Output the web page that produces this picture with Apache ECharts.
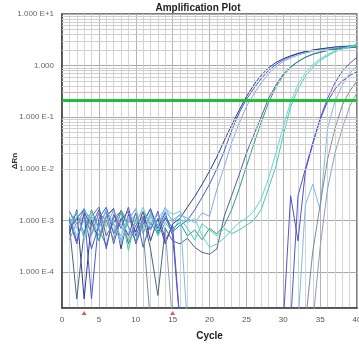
<!DOCTYPE html>
<html><head><meta charset="utf-8">
<script src="https://cdn.jsdelivr.net/npm/echarts@6/dist/echarts.min.js"></script>
<style>html,body{margin:0;padding:0;background:#fff}#c{width:359px;height:345px}</style>
</head><body><div id="c"></div>
<script>
const cycles = [1,2,3,4,5,6,7,8,9,10,11,12,13,14,15,16,17,18,19,20,21,22,23,24,25,26,27,28,29,30,31,32,33,34,35,36,37,38,39,40];
const xTickLabels = ['0','5','10','15','20','25','30','35','40'];
const yTickValues = [1e-4,1e-3,1e-2,1e-1,1,10];
const yTickLabels = ['1.000 E-4','1.000 E-3','1.000 E-2','1.000 E-1','1.000','1.000 E+1'];
const minorGridValues = [2e-5,3e-5,4e-5,5e-5,6e-5,7e-5,8e-5,9e-5,2e-4,3e-4,4e-4,5e-4,6e-4,7e-4,8e-4,9e-4,2e-3,3e-3,4e-3,5e-3,6e-3,7e-3,8e-3,9e-3,2e-2,3e-2,4e-2,5e-2,6e-2,7e-2,8e-2,9e-2,0.2,0.3,0.4,0.5,0.6,0.7,0.8,0.9,2,3,4,5,6,7,8,9];
const threshold = 0.21;
const upperLine = 0.31;
const baselineCycles = [3, 15];

const wellA1 = [1.1e-3,4e-4,1.3e-3,2.8e-4,8e-4,1.5e-3,3.5e-4,1.1e-3,5e-4,1.4e-3,3e-4,9e-4,5.5e-4,1.1e-3,6e-4,8e-4,1.0e-3,1.6e-3,2.8e-3,5.0e-3,1.0e-2,2.2e-2,5.5e-2,1.2e-1,2.2e-1,3.6e-1,5.6e-1,8.0e-1,1.05,1.3,1.5,1.7,1.85,2.0,2.1,2.2,2.3,2.35,2.4,2.45];
const wellA2 = [5.5e-4,1.6e-3,3e-5,1.0e-3,4e-4,1.2e-3,1.7e-3,2.8e-4,1.3e-3,6e-4,1.5e-3,4e-4,1.1e-3,3.5e-4,8.5e-4,1.1e-3,1.8e-3,2.9e-3,5.0e-3,9.0e-3,1.7e-2,3.5e-2,7.0e-2,1.35e-1,2.5e-1,4.2e-1,6.5e-1,9.0e-1,1.15,1.36,1.55,1.72,1.87,2.0,2.1,2.18,2.26,2.32,2.36,2.4];
const wellA3 = [1.5e-3,7e-4,1.7e-3,5e-4,1.4e-3,7.5e-4,1.6e-3,4e-4,1.0e-3,1.7e-3,5.5e-4,1.4e-3,8e-4,1.5e-3,1.0e-3,1.3e-3,1.1e-3,9e-4,1.4e-3,1.2e-3,4.0e-3,1.1e-2,3.2e-2,7.5e-2,1.6e-1,2.8e-1,4.6e-1,7.0e-1,9.5e-1,1.2,1.4,1.6,1.75,1.9,2.0,2.1,2.2,2.25,2.3,2.35];
const wellB1 = [8e-4,3e-5,6e-4,1.2e-3,1.8e-3,5e-4,9e-4,1.5e-3,3.5e-4,8e-4,1.2e-3,2.8e-4,3.5e-5,7e-4,4e-4,3.5e-4,4.5e-4,3e-4,2.4e-4,2.2e-4,2.8e-4,1.2e-3,3.0e-3,7.5e-3,2.0e-2,4.5e-2,1.0e-1,2.3e-1,4.2e-1,6.8e-1,9.5e-1,1.2,1.45,1.65,1.8,1.95,2.05,2.15,2.22,2.28];
const wellB2 = [9e-4,1.4e-3,5.5e-4,1.6e-3,7e-4,3.2e-4,1.1e-3,1.5e-3,7.5e-4,4e-4,1.0e-3,1.6e-3,6e-4,1.2e-3,7e-4,9e-4,5e-4,6.5e-4,4.2e-4,7e-4,5.5e-4,8e-4,1.6e-3,4.0e-3,1.1e-2,3.0e-2,7.8e-2,1.9e-1,3.8e-1,6.4e-1,9.2e-1,1.2,1.45,1.67,1.85,2.0,2.12,2.22,2.3,2.36];
const wellC1 = [7e-4,1.1e-3,1.7e-3,8.5e-4,4e-4,1.0e-3,6e-4,1.4e-3,2.6e-4,1.1e-3,7e-4,1.3e-3,5e-4,9e-4,6e-4,1.1e-3,7e-4,4.2e-4,8.5e-4,6.5e-4,5e-4,7e-4,5.5e-4,6.5e-4,8e-4,1.0e-3,1.6e-3,4.2e-3,1.1e-2,4.5e-2,1.6e-1,3.5e-1,6.2e-1,9.3e-1,1.25,1.55,1.85,2.1,2.35,2.6];
const wellC2 = [1.2e-3,5e-4,1.0e-3,1.4e-3,6.5e-4,1.7e-3,8.5e-4,5e-4,1.2e-3,8.5e-4,1.8e-3,7e-4,1.1e-3,1.7e-3,1.3e-3,1.5e-3,9e-4,1.1e-3,5e-4,3e-4,3.5e-4,4.5e-4,6.5e-4,9e-4,1.1e-3,1.5e-3,2.6e-3,6.5e-3,2.0e-2,6.5e-2,2.0e-1,4.3e-1,7.2e-1,1.05,1.35,1.65,1.9,2.1,2.3,2.45];
const wellD1 = [1.0e-3,3.5e-4,1.4e-3,8e-4,1.6e-3,2.8e-4,1.3e-3,7e-4,1.8e-3,5e-4,1.1e-3,6.5e-4,1.5e-3,4e-4,8e-4,1e-5,1e-5,1e-5,1e-5,1e-5,1e-5,1e-5,1e-5,1e-5,1e-5,1e-5,1e-5,1e-5,1e-5,1e-5,3.0e-3,4e-4,9e-3,3.0e-2,9.0e-2,2.0e-1,3.5e-1,5.0e-1,6.4e-1,7.6e-1];
const wellD2 = [6.5e-4,1.1e-3,1.6e-3,3e-5,1.1e-3,1.8e-3,5.5e-4,1.0e-3,1.5e-3,3.5e-4,8.5e-4,1.7e-3,7e-4,1.4e-3,5e-4,1e-5,1e-5,1e-5,1e-5,1e-5,1e-5,1e-5,1e-5,1e-5,1e-5,1e-5,1e-5,1e-5,1e-5,1e-5,1e-5,3e-3,1.0e-2,3.2e-2,9.5e-2,2.3e-1,4.6e-1,7.8e-1,1.1,1.45];
const wellD3 = [8.5e-4,1.5e-3,4.2e-4,1.2e-3,7e-4,1.5e-3,9e-4,3.5e-4,1.1e-3,1.6e-3,5.5e-4,1.2e-3,8e-4,1.8e-3,9e-4,1.3e-3,1e-5,1e-5,1e-5,1e-5,1e-5,1e-5,1e-5,1e-5,1e-5,1e-5,1e-5,1e-5,1e-5,1e-5,1e-5,1e-5,2.0e-3,5e-3,1.6e-3,6e-2,2.0e-1,4.2e-1,7e-1,1.0];
const wellE1 = [1.5e-3,8.5e-4,1.2e-3,5.5e-4,1.4e-3,1.0e-3,4.2e-4,1.6e-3,9e-4,1.3e-3,6.5e-4,1e-5,1e-5,1e-5,1e-5,1e-5,1e-5,1e-5,1e-5,1e-5,1e-5,1e-5,1e-5,1e-5,1e-5,1e-5,1e-5,1e-5,1e-5,1e-5,1e-5,1e-5,1e-5,2.5e-4,2.0e-3,1.5e-2,6.0e-2,1.7e-1,3.2e-1,5.0e-1];
const wellE2 = [4.2e-4,9e-4,1.5e-3,1.1e-3,5e-4,1.2e-3,1.6e-3,8e-4,4.2e-4,1.0e-3,1.5e-3,8.5e-4,1.3e-3,6.5e-4,1e-5,1e-5,1e-5,1e-5,1e-5,1e-5,1e-5,1e-5,1e-5,1e-5,1e-5,1e-5,1e-5,1e-5,1e-5,1e-5,1e-5,1e-5,1e-5,1e-5,3e-4,4e-3,2.0e-2,6e-2,1.6e-1,3.0e-1];

const wells = [
  {v: wellA1, c: '#3d5fc4'}, {v: wellA2, c: '#2b3b8e'}, {v: wellA3, c: '#86a8e6'},
  {v: wellB1, c: '#4b6680'}, {v: wellB2, c: '#2a9c96'},
  {v: wellC1, c: '#3fd0a6'}, {v: wellC2, c: '#5dd5d8'},
  {v: wellD1, c: '#5b4ecb'}, {v: wellD2, c: '#4a5ad6'}, {v: wellD3, c: '#7bbbe4'},
  {v: wellE1, c: '#7f8899'}, {v: wellE2, c: '#8e9bbd'}
];

const chart = echarts.init(document.getElementById('c'), null, {renderer: 'canvas'});
const series = [{
  type: 'line', data: [], z: 1, silent: true,
  markLine: {
    silent: true, symbol: 'none', label: {show: false}, animation: false,
    data: minorGridValues.map(v => ({yAxis: v, lineStyle: {color: '#cfcfcf', width: 1, type: 'solid'}}))
  }
}];
wells.forEach((w, i) => {
  series.push({
    type: 'line', name: 'w' + i, showSymbol: false, symbol: 'none', z: 3,
    data: cycles.map((c, k) => [c, w.v[k]]),
    lineStyle: {color: w.c, width: 1}, clip: true
  });
});
series.push({
  type: 'line', data: [], z: 5, silent: true,
  markLine: {
    silent: true, symbol: 'none', label: {show: false}, animation: false,
    data: [
      {yAxis: upperLine, lineStyle: {color: '#f3a9b4', width: 1, type: 'solid'}},
      {yAxis: threshold, lineStyle: {color: '#1fbf3a', width: 3, type: 'solid'}}
    ]
  }
});
series.push({
  type: 'scatter', z: 6, clip: false, silent: true,
  data: baselineCycles.map(c => [c, 2e-5]),
  symbol: 'triangle', symbolSize: [5, 4], symbolOffset: [0, 5],
  itemStyle: {color: '#e0302a'}
});

chart.setOption({
  animation: false,
  backgroundColor: '#ffffff',
  title: {
    text: 'Amplification Plot', left: 193, top: -2, textAlign: 'center',
    textStyle: {fontFamily: 'Liberation Sans', fontSize: 10, fontWeight: 'bold', color: '#222'}
  },
  grid: {left: 62, right: 2, top: 14, bottom: 37, show: true, borderColor: '#555', borderWidth: 1.5, backgroundColor: '#fff', outerBoundsMode: 'none', containLabel: false},
  xAxis: {
    type: 'value', min: 0, max: 40, interval: 5,
    name: 'Cycle', nameLocation: 'middle', nameGap: 23, nameMoveOverlap: false,
    nameTextStyle: {fontFamily: 'Liberation Sans', fontSize: 10, fontWeight: 'bold', color: '#222'},
    axisLine: {show: true, lineStyle: {color: '#444', width: 1.5}},
    axisTick: {show: false},
    axisLabel: {fontFamily: 'Liberation Sans', fontSize: 8, color: '#555', margin: 8, hideOverlap: false,
      formatter: (v) => xTickLabels[Math.round(v / 5)]},
    splitLine: {show: true, lineStyle: {color: '#b4b4b4', width: 1}},
    minorTick: {show: false, splitNumber: 5},
    minorSplitLine: {show: true, lineStyle: {color: '#d4d4d4', width: 1}}
  },
  yAxis: {
    type: 'log', logBase: 10, min: 2e-5, max: 10,
    name: 'ΔRn', nameLocation: 'middle', nameGap: 43, nameRotate: 90, nameMoveOverlap: false,
    nameTextStyle: {fontFamily: 'Liberation Sans', fontSize: 8, fontWeight: 'bold', color: '#333'},
    axisLine: {show: true, lineStyle: {color: '#444', width: 1.5}},
    axisTick: {show: false},
    axisLabel: {fontFamily: 'Liberation Sans', fontSize: 8, color: '#666', margin: 8, showMinLabel: false,
      formatter: (v) => {
        let best = 0, d = 1e9;
        yTickValues.forEach((t, i) => { const e = Math.abs(Math.log10(t) - Math.log10(v)); if (e < d) { d = e; best = i; } });
        return d < 0.01 ? yTickLabels[best] : '';
      }},
    splitLine: {show: true, lineStyle: {color: '#a8a8a8', width: 1}}
  },
  series: series
});
</script></body></html>
